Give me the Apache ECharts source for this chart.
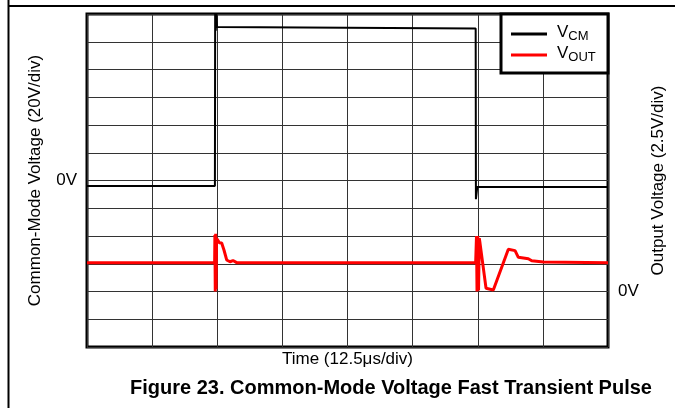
<!DOCTYPE html>
<html>
<head>
<meta charset="utf-8">
<script src="https://cdn.jsdelivr.net/npm/echarts@6/dist/echarts.min.js"></script>
<style>
    html, body { margin: 0; padding: 0; background: #fff; }
    #main { width: 675px; height: 408px; }
</style>
</head>
<body>
<div id="main"></div>
<script>
! function() {
    'use strict'
    var FONT = '"Liberation Sans", Arial, sans-serif';

    // 时间 (us), 12.5us/div
    var vcmTime = [0, 24.55, 24.6, 24.72, 24.82, 24.95, 74.6, 74.65, 74.9, 100];
    // 共模电压 (V), 20V/div
    var vcmVolts = [-4, -4, 121, 108, 121, 110.6, 109.5, -13.5, -4.7, -4.7];

    var voutTime = [0, 24.5, 24.55, 24.62, 24.7, 24.78, 24.86, 25.39, 25.85, 26.29, 26.81, 27.45, 28.02, 28.73,
        74.6, 74.66, 74.76, 74.86, 75.0, 75.15, 75.3, 75.44, 76.59, 77.99, 80.87, 82.16, 82.79, 84.71, 85.36, 87.59, 100];
    // 输出电压 (V), 2.5V/div
    var voutVolts = [2.6, 2.6, 5.1, 0, 5.2, 0.2, 4.8, 4.4, 4.37, 3.74, 2.84, 2.68, 2.79, 2.6,
        2.6, 2.6, 5.0, 0, 5.0, 0.1, 4.8, 4.34, 0.29, 0.14, 3.8, 3.68, 3.08, 2.95, 2.77, 2.66, 2.6];

    var seriesNames = ['VCM', 'VOUT'];

    function pairs(xs, ys) {
        return xs.map(function(x, i) { return [x, ys[i]]; });
    }

    var gridLine = { lineStyle: { color: '#333', width: 1 } };
    var zeroLabel = function(v) { return v === 0 ? '0V' : ''; };

    var chart = echarts.init(document.getElementById('main'));
    var option = {
        animation: false,
        backgroundColor: '#fff',
        title: {
            text: 'Figure 23. Common-Mode Voltage Fast Transient Pulse',
            left: 386,
            top: 373,
            textAlign: 'center',
            textStyle: { fontFamily: FONT, fontSize: 20, fontWeight: 'bold', color: '#000' }
        },
        grid: {
            left: 87,
            right: 67,
            top: 14,
            bottom: 61,
            show: true,
            borderColor: '#000',
            borderWidth: 3,
            backgroundColor: 'transparent'
        },
        legend: {
            orient: 'vertical',
            left: 511,
            top: 24,
            padding: 0,
            itemGap: 2,
            itemWidth: 36,
            itemHeight: 3,
            icon: 'rect',
            data: seriesNames,
            formatter: function(name) {
                return name === 'VCM' ? '{v|V}{s|CM}' : '{v|V}{s|OUT}';
            },
            textStyle: {
                color: '#000',
                fontFamily: FONT,
                rich: {
                    v: { fontSize: 17, fontFamily: FONT, color: '#000', padding: [0, 0, 2, 5], verticalAlign: 'bottom', lineHeight: 18 },
                    s: { fontSize: 13, fontFamily: FONT, color: '#000', verticalAlign: 'bottom', lineHeight: 16 }
                }
            }
        },
        xAxis: {
            type: 'value',
            min: 0,
            max: 100,
            interval: 12.5,
            axisLine: { show: false },
            axisTick: { show: false },
            axisLabel: { show: false },
            splitLine: gridLine,
            name: 'Time (12.5μs/div)',
            nameLocation: 'middle',
            nameGap: 4,
            nameTextStyle: { fontFamily: FONT, fontSize: 17, color: '#000' }
        },
        yAxis: [{
            type: 'value',
            position: 'left',
            min: -120,
            max: 120,
            interval: 20,
            axisLine: { show: false },
            axisTick: { show: false },
            axisLabel: { formatter: zeroLabel, fontFamily: FONT, fontSize: 17, color: '#000', margin: 10, padding: [5, 0, 0, 0] },
            splitLine: gridLine,
            name: 'Common-Mode Voltage (20V/div)',
            nameLocation: 'middle',
            nameRotate: 90,
            nameGap: 43,
            nameTextStyle: { fontFamily: FONT, fontSize: 17, color: '#000' }
        }, {
            type: 'value',
            position: 'right',
            min: -5,
            max: 25,
            interval: 2.5,
            axisLine: { show: false },
            axisTick: { show: false },
            axisLabel: { formatter: zeroLabel, fontFamily: FONT, fontSize: 17, color: '#000', margin: 10 },
            splitLine: { show: false },
            name: 'Output Voltage (2.5V/div)',
            nameLocation: 'middle',
            nameRotate: 90,
            nameGap: 32,
            nameTextStyle: { fontFamily: FONT, fontSize: 17, color: '#000' }
        }],
        graphic: {
            elements: [{
                type: 'line',
                shape: { x1: 8.5, y1: 0, x2: 8.5, y2: 408 },
                style: { stroke: '#000', lineWidth: 2 }
            }, {
                type: 'line',
                shape: { x1: 8, y1: 6, x2: 675, y2: 6 },
                style: { stroke: '#000', lineWidth: 2 }
            }, {
                // 图例框
                type: 'rect',
                z: 3,
                shape: { x: 501, y: 14, width: 107, height: 59 },
                style: { fill: '#fff', stroke: '#000', lineWidth: 3 }
            }]
        },
        series: [{
            name: 'VCM',
            type: 'line',
            yAxisIndex: 0,
            showSymbol: false,
            color: '#000',
            lineStyle: { color: '#000', width: 2 },
            data: pairs(vcmTime, vcmVolts)
        }, {
            name: 'VOUT',
            type: 'line',
            yAxisIndex: 1,
            showSymbol: false,
            color: '#ff0000',
            lineStyle: { color: '#ff0000', width: 3 },
            data: pairs(voutTime, voutVolts)
        }]
    };
    chart.setOption(option);
}()
</script>
</body>
</html>
